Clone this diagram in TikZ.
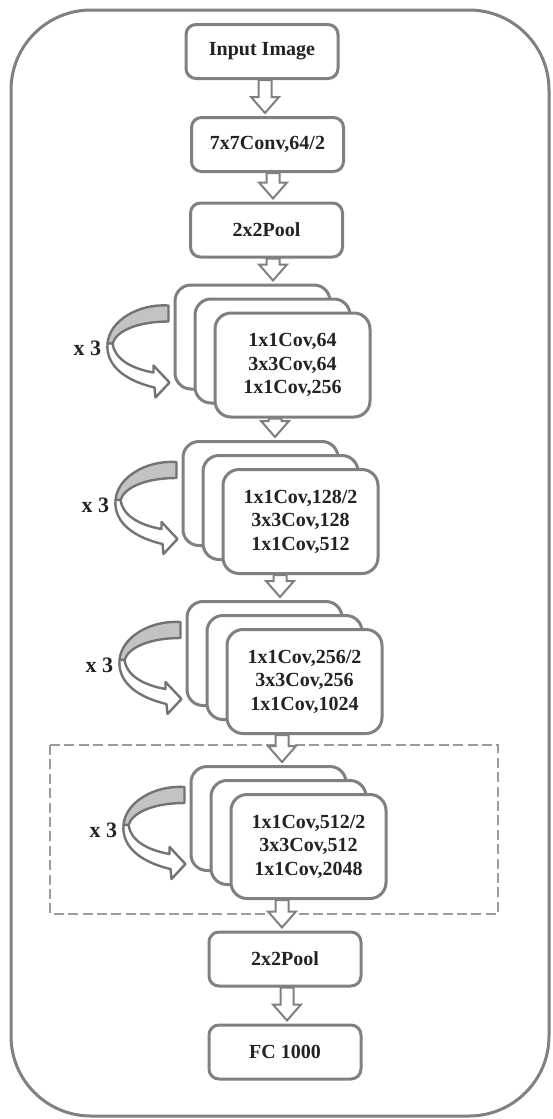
\documentclass[tikz,border=0pt]{standalone}
\usepackage{fontspec}
\setmainfont{Liberation Serif}
\usetikzlibrary{calc, positioning}
\definecolor{edgegray}{RGB}{128,128,128}
\definecolor{dashgray}{RGB}{155,155,155}
\definecolor{bandgray}{RGB}{195,195,195}
\definecolor{inkgray}{RGB}{35,35,35}

\tikzset{
  box/.style={draw=edgegray, line width=1.5pt, rounded corners=5pt, fill=white,
    minimum width=76pt, minimum height=27pt, inner sep=0pt, text=inkgray,
    font=\fontsize{10}{11.75}\selectfont\bfseries},
  card/.style={box, minimum width=77.5pt, minimum height=52pt, rounded corners=8pt, align=center},
  flow/.style={draw=edgegray, line width=1pt, fill=white, line join=miter},
  band/.style={draw=edgegray!90!black, line width=1.2pt, line join=round},
  repeatcurl/.pic={
    \draw[band, fill=bandgray] (-5,22) .. controls (-35,20) and (-64,37) .. (-66,60)
      -- (-61,60) .. controls (-57,47) and (-35,38) .. (-5,38) -- cycle;
    \draw[band, fill=white] (-66,60) .. controls (-68,84) and (-45,98) .. (-19,104)
      -- (-18,114) -- (-4,99) -- (-20,82) -- (-20,89) .. controls (-43,85) and (-59,75) .. (-61,60) -- cycle;
    \node[anchor=east, inner sep=0pt, text=inkgray, font=\fontsize{11}{13}\selectfont\bfseries]
      (-times) at (-72,65) {x 3};
  },
}
% hollow block arrow: x position, start anchor, end anchor
\newcommand{\flowarrow}[3]{%
  \draw[flow] let \p1=(#1,0), \p2=(#2), \p3=(#3) in
    (\x1-3.25pt,\y2) -- (\x1-3.25pt,\y3+9.5pt) -- (\x1-7pt,\y3+9.5pt) -- (\x1,\y3+1.5pt)
    -- (\x1+7pt,\y3+9.5pt) -- (\x1+3.25pt,\y3+9.5pt) -- (\x1+3.25pt,\y2) -- cycle;}

\begin{document}
\begin{tikzpicture}[x=0.5pt, y=-0.5pt]
  \useasboundingbox (0,0) rectangle (552,1119);
  \draw[edgegray, line width=1.5pt, rounded corners=40pt] (11,10) rectangle (549,1116);
  \draw[dashgray, line width=1.4pt, dash pattern=on 5pt off 2.2pt] (50,745) rectangle (498,914);

  \node[box] (input) at (262,51.5) {Input Image};
  \node[box] (conv) at (267.5,144.5) {7x7Conv,64/2};
  \node[box] (pool) at (266.5,230) {2x2Pool};

  % residual stages
  \foreach \n/\pos/\txt in {
      1/{292.5,365}/{1x1Cov,64\\3x3Cov,64\\1x1Cov,256},
      2/{300.5,521.5}/{1x1Cov,128/2\\3x3Cov,128\\1x1Cov,512},
      3/{304.5,681.5}/{1x1Cov,256/2\\3x3Cov,256\\1x1Cov,1024},
      4/{308.5,846.5}/{1x1Cov,512/2\\3x3Cov,512\\1x1Cov,2048}} {
    \coordinate (c\n) at (\pos);
    \node[card] (blk\n b) at ($(c\n)+(-40,-28)$) {};
    \node[card] (blk\n m) at ($(c\n)+(-20,-14)$) {};
    \node[card] (blk\n) at (c\n) {\txt};
    \pic (rep\n) at (blk\n b.north west) {repeatcurl};
  }

  \node[box] (poolb) at (285,959) {2x2Pool};
  \node[box] (fc) at (285,1052) {FC 1000};

  \flowarrow{265}{input.south}{conv.north}
  \flowarrow{273}{conv.south}{pool.north}
  \flowarrow{273}{pool.south}{blk1b.north}
  \flowarrow{275}{blk1.south}{blk2b.north}
  \flowarrow{280}{blk2.south}{blk3b.north}
  \flowarrow{282}{blk3.south}{blk4b.north}
  \flowarrow{282}{blk4.south}{poolb.north}
  \flowarrow{287}{poolb.south}{fc.north}
\end{tikzpicture}
\end{document}
